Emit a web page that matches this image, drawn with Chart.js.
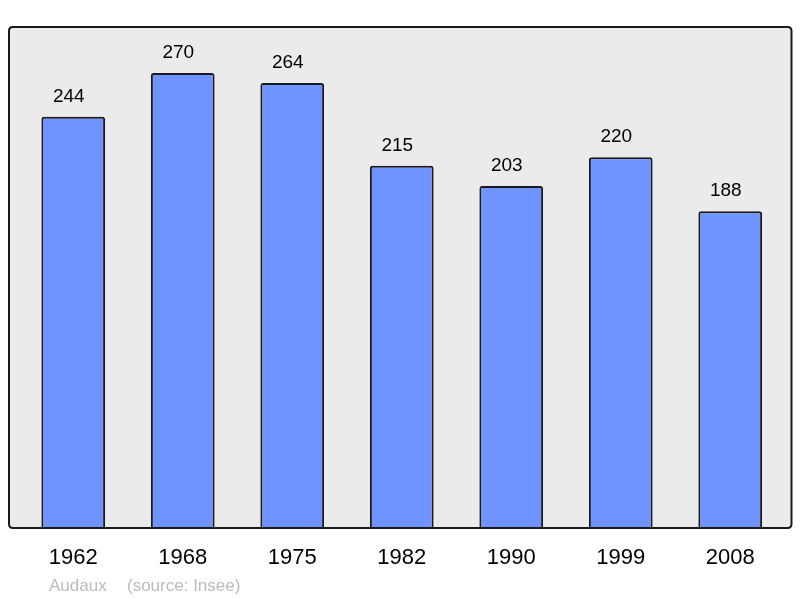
<!DOCTYPE html>
<html>
<head>
<meta charset="utf-8">
<script src="https://cdn.jsdelivr.net/npm/chart.js@4"></script>
<style>
html,body{margin:0;padding:0;background:#fff;}
#wrap{width:800px;height:598px;}
</style>
</head>
<body>
<div id="wrap"><canvas id="c" width="800" height="598"></canvas></div>
<script>
const years = ['1962','1968','1975','1982','1990','1999','2008'];
const population = [244, 270, 264, 215, 203, 220, 188];
const footerName = 'Audaux';
const footerSource = '(source: Insee)';

const FONT = "'Liberation Sans', Arial, sans-serif";

function roundRect(ctx, x, y, w, h, r) {
  ctx.beginPath();
  ctx.moveTo(x + r, y);
  ctx.lineTo(x + w - r, y);
  ctx.quadraticCurveTo(x + w, y, x + w, y + r);
  ctx.lineTo(x + w, y + h - r);
  ctx.quadraticCurveTo(x + w, y + h, x + w - r, y + h);
  ctx.lineTo(x + r, y + h);
  ctx.quadraticCurveTo(x, y + h, x, y + h - r);
  ctx.lineTo(x, y + r);
  ctx.quadraticCurveTo(x, y, x + r, y);
  ctx.closePath();
}

const framePlugin = {
  id: 'frame',
  beforeDatasetsDraw(chart) {
    const {ctx, chartArea: a} = chart;
    ctx.save();
    roundRect(ctx, a.left - 9.5, a.top, (a.right + 6.5) - (a.left - 9.5), a.bottom - a.top, 4);
    ctx.fillStyle = '#ebebeb';
    ctx.fill();
    ctx.restore();
  },
  afterDatasetsDraw(chart) {
    const {ctx, chartArea: a} = chart;
    ctx.save();
    roundRect(ctx, a.left - 9.5, a.top, (a.right + 6.5) - (a.left - 9.5), a.bottom - a.top, 4);
    ctx.lineWidth = 2;
    ctx.strokeStyle = '#1a1a1a';
    ctx.stroke();
    // value labels
    const meta = chart.getDatasetMeta(0);
    ctx.fillStyle = '#000';
    ctx.font = '19px ' + FONT;
    ctx.textAlign = 'center';
    ctx.textBaseline = 'alphabetic';
    meta.data.forEach((bar, i) => {
      ctx.fillText(String(population[i]), bar.x - 4.5, bar.y - 15);
    });
    // footer
    ctx.fillStyle = '#bbbbbb';
    ctx.font = '17px ' + FONT;
    ctx.textAlign = 'left';
    ctx.fillText(footerName, a.left + 30.5, a.bottom + 62.5);
    ctx.fillText(footerSource, a.left + 108.5, a.bottom + 62.5);
    ctx.restore();
  }
};

new Chart(document.getElementById('c'), {
  type: 'bar',
  data: {
    labels: years,
    datasets: [{
      data: population,
      backgroundColor: '#7094ff',
      borderColor: '#1a1a1a',
      borderWidth: 2,
      borderSkipped: 'bottom',
      borderRadius: {topLeft: 2.5, topRight: 2.5, bottomLeft: 0, bottomRight: 0},
      categoryPercentage: 1,
      barPercentage: 0.582
    }]
  },
  options: {
    responsive: false,
    animation: false,
    devicePixelRatio: 1,
    layout: {padding: {top: 27, left: 18.5, right: 15, bottom: 0}},
    plugins: {legend: {display: false}, tooltip: {enabled: false}, title: {display: false}},
    scales: {
      x: {
        grid: {display: false, drawTicks: false},
        border: {display: false},
        ticks: {color: '#000', font: {family: FONT, size: 22}, padding: 17, maxRotation: 0},
        afterFit(scale) { scale.height = 70; }
      },
      y: {
        display: false,
        min: 0,
        max: 297.3
      }
    }
  },
  plugins: [framePlugin]
});
</script>
</body>
</html>
